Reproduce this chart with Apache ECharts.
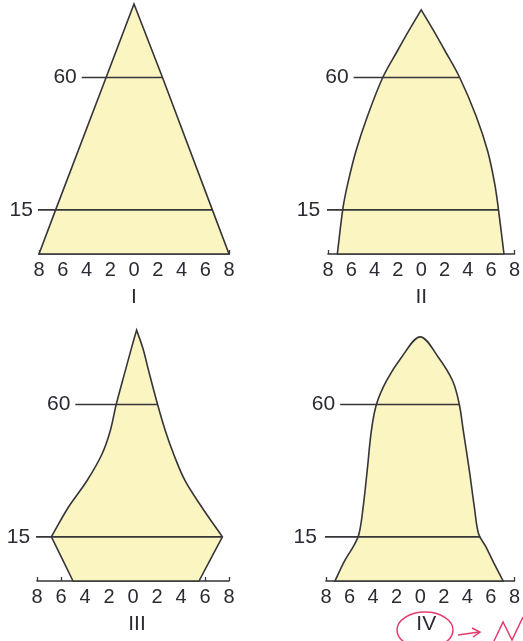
<!DOCTYPE html>
<html>
<head>
<meta charset="utf-8">
<script src="https://cdn.jsdelivr.net/npm/echarts@6/dist/echarts.min.js"></script>
<style>
  html, body { margin: 0; padding: 0; background: #fff; }
  #pyramids { width: 523px; height: 641px; }
</style>
</head>
<body>
<div id="pyramids"></div>
<script>
// x = share of population (%) per sex, left negative; y = age
var markAges = [15, 60];
var panelNames = ["I", "II", "III", "IV"];

// I – triangle
var agesI = [0, 15, 60, 85];
var leftI = [-8, -6.6, -2.35, 0];
var rightI = [8, 6.6, 2.4, 0];
var lineStartI = [-8.1, -4.4];

// II
var agesII = [0, 16, 24, 35, 47, 60, 69, 76, 83];
var leftII = [-7.2, -6.7, -6.3, -5.6, -4.6, -3.3, -2.05, -1.05, 0];
var rightII = [7.1, 6.6, 6.3, 5.7, 4.7, 3.3, 2.05, 1.05, 0];
var lineStartII = [-8.25, -5.8];

// III
var agesIII = [0, 15, 25, 34, 43, 51, 60, 71.5, 79, 85.3];
var leftIII = [-5.0, -6.8, -5.4, -3.85, -2.6, -1.9, -1.4, -0.64, -0.14, 0.3];
var rightIII = [5.5, 7.45, 5.75, 4.35, 3.4, 2.7, 2.05, 1.3, 0.83, 0.3];
var lineStartIII = [-8.15, -4.8];

// IV
var agesIV = [0, 7, 11.6, 16, 25, 37.6, 51, 60, 68, 76, 83];
var leftIV = [-7.24, -6.4, -5.7, -5.2, -4.85, -4.5, -4.15, -3.72, -2.87, -1.6, 0];
var rightIV = [7.04, 6.14, 5.58, 4.96, 4.6, 4.17, 3.66, 3.32, 2.76, 1.55, 0];
var lineStartIV = [-8.35, -6.8];

var panels = [
  { ages: agesI, left: leftI, right: rightI, starts: lineStartI, smooth: 0, corners: [0], sharpTop: true },
  { ages: agesII, left: leftII, right: rightII, starts: lineStartII, smooth: 0.35, corners: [0], sharpTop: true },
  { ages: agesIII, left: leftIII, right: rightIII, starts: lineStartIII, smooth: 0.35, corners: [0, 1], sharpTop: true },
  { ages: agesIV, left: leftIV, right: rightIV, starts: lineStartIV, smooth: 0.35, corners: [0], sharpTop: false }
];

var grids = [
  { left: 39, top: 1, width: 190, height: 253 },
  { left: 328, top: 1, width: 189, height: 253 },
  { left: 37, top: 328, width: 192, height: 253 },
  { left: 326, top: 328, width: 189, height: 253 }
];
var nameShift = [0, 0, 8, 12];

var FONT = "'Liberation Sans', Arial, Helvetica, sans-serif";
var INK = "#35353a";
var TEXT = "#2a2b33";
var FILL = "#fbf5c2";

// edge position at given age (between read points)
function edgeAt(ages, xs, a) {
  for (var i = 1; i < ages.length; i++) {
    if (a <= ages[i]) {
      var t = (a - ages[i - 1]) / (ages[i] - ages[i - 1]);
      return xs[i - 1] + t * (xs[i] - xs[i - 1]);
    }
  }
  return xs[xs.length - 1];
}

var chart = echarts.init(document.getElementById("pyramids"));

var xAxes = [], yAxes = [], series = [];
panels.forEach(function (p, k) {
  xAxes.push({
    gridIndex: k,
    type: "value",
    min: -8,
    max: 8,
    interval: 2,
    name: panelNames[k],
    nameLocation: "middle",
    nameGap: 33,
    nameTextStyle: { fontFamily: FONT, fontSize: 21, color: TEXT, padding: [0, 0, 0, nameShift[k]] },
    axisLine: { lineStyle: { color: INK, width: 1.6 } },
    axisTick: { inside: true, length: 4, lineStyle: { color: INK, width: 1.3 } },
    axisLabel: {
      margin: 6,
      fontFamily: FONT,
      fontSize: 20,
      color: TEXT,
      formatter: function (v) { return Math.abs(v); }
    },
    splitLine: { show: false }
  });
  yAxes.push({ gridIndex: k, type: "value", min: 0, max: 86, show: false });

  // outline: left edge bottom->top, right edge top->bottom; doubled points stay sharp when smoothed
  var outline = [];
  var n = p.ages.length;
  p.ages.forEach(function (a, i) {
    outline.push([p.left[i], a]);
    if (p.corners.indexOf(i) >= 0) outline.push([p.left[i], a]);
  });
  for (var i = n - 1; i >= 0; i--) {
    if (i === n - 1 && !p.sharpTop) continue;
    outline.push([p.right[i], p.ages[i]]);
    if (p.corners.indexOf(i) >= 0) outline.push([p.right[i], p.ages[i]]);
  }

  series.push({
    type: "custom",
    xAxisIndex: k,
    yAxisIndex: k,
    silent: true,
    clip: false,
    data: [[0, 0]],
    renderItem: function (params, api) {
      return {
        type: "polygon",
        shape: {
          points: outline.map(function (pt) { return api.coord(pt); }),
          smooth: p.smooth
        },
        style: { fill: FILL, stroke: INK, lineWidth: 1.6 }
      };
    }
  });

  markAges.forEach(function (age, j) {
    series.push({
      type: "line",
      xAxisIndex: k,
      yAxisIndex: k,
      silent: true,
      clip: false,
      symbol: "circle",
      symbolSize: 0,
      lineStyle: { color: INK, width: 1.7 },
      data: [
        {
          value: [p.starts[j], age],
          label: {
            show: true,
            position: "left",
            distance: 5,
            formatter: String(age),
            fontFamily: FONT,
            fontSize: 21,
            color: TEXT
          }
        },
        [edgeAt(p.ages, p.right, age), age]
      ]
    });
  });
});

var option = {
  animation: false,
  backgroundColor: "#ffffff",
  grid: grids,
  xAxis: xAxes,
  yAxis: yAxes,
  series: series,
  graphic: [
    { type: "ellipse", shape: { cx: 425, cy: 630, rx: 28, ry: 18 },
      style: { fill: "none", stroke: "#e53a6e", lineWidth: 1.5 } },
    { type: "polyline", shape: { points: [[458, 635], [479, 632]] },
      style: { stroke: "#e53a6e", lineWidth: 1.5 } },
    { type: "polyline", shape: { points: [[472, 628], [480, 632], [473, 637]] },
      style: { fill: "none", stroke: "#e53a6e", lineWidth: 1.5 } },
    { type: "polyline", shape: { points: [[494, 641], [503, 622], [512, 640], [523, 617]] },
      style: { fill: "none", stroke: "#e53a6e", lineWidth: 1.5 } }
  ]
};

chart.setOption(option);
</script>
</body>
</html>
